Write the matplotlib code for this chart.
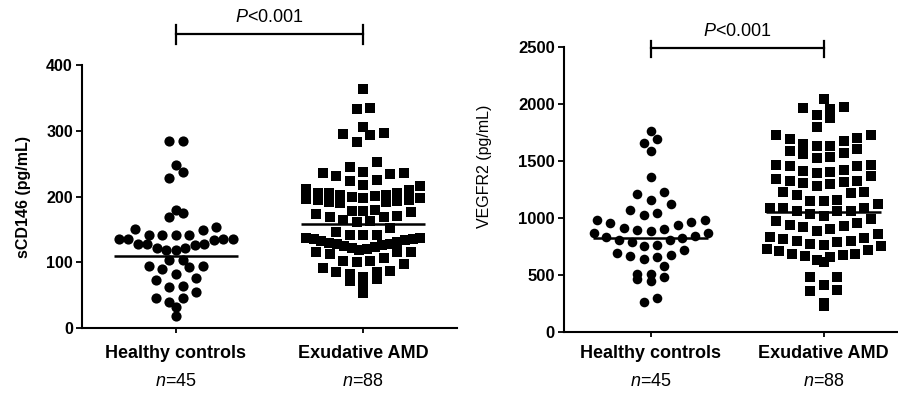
import numpy as np
import matplotlib
matplotlib.use('Agg')
import matplotlib.pyplot as plt

plt.rcParams['font.family'] = ['Liberation Sans', 'DejaVu Sans']
plt.rcParams['mathtext.fontset'] = 'custom'
plt.rcParams['mathtext.it'] = 'Liberation Sans:italic'
plt.rcParams['mathtext.rm'] = 'Liberation Sans'

# ---------------- data ----------------
groups = ['Healthy controls', 'Exudative AMD']
n_counts = ['45', '88']

scd146_healthy = [284, 284, 248, 237, 228, 180, 175, 169, 153, 150, 149,
                  141, 141, 141, 141, 136, 136, 136, 136, 134, 128, 128, 128,
                  125.5, 122, 122, 119, 119, 103, 103, 95, 95, 93, 89.5, 82,
                  76, 73, 64, 63, 55.5, 46, 45, 39, 32, 17.5]
scd146_amd = [364, 334, 333, 306, 296, 295, 294, 283, 253, 245, 238, 236,
              235, 233.5, 231, 225, 224, 218, 216, 211, 210, 206,
              205, 205, 203, 202, 201, 199, 198, 197, 196, 195, 194, 193,
              192, 191, 190,
              179, 178, 178, 177, 174, 171, 169, 169, 165, 162.5, 161.5,
              152, 146, 142, 142, 141,
              137, 137, 136, 135, 134, 132, 131, 130, 128, 127, 126, 124.5,
              122.5, 121.5, 120, 119,
              116, 115, 115, 112, 107, 102, 102, 101, 97,
              91.5, 86.5, 85.5, 84.5, 82.5, 78, 74.5, 71, 66,
              52.5]
vegfr2_healthy = [1766, 1696, 1658, 1590, 1362, 1225, 1210, 1160, 1123, 1073,
                  1044, 1023, 985, 979, 961, 956, 941, 912, 903, 897, 883,
                  868, 868, 839, 833, 825, 804, 804, 789, 760, 757, 716, 693,
                  678, 663, 655, 643, 576, 509, 509, 483, 468, 444, 298, 260]
vegfr2_amd = [2047, 1971, 1965, 1959, 1906, 1877, 1795, 1731, 1725, 1702,
              1696, 1678, 1649, 1634, 1634, 1605, 1590, 1570, 1561, 1532,
              1526, 1468, 1468, 1459, 1453, 1424, 1415, 1403, 1395, 1365,
              1345, 1327, 1321, 1316, 1307, 1298, 1277, 1228, 1228, 1219,
              1198, 1161, 1152, 1146,
              1120, 1092, 1092, 1092, 1063, 1063, 1058, 1035, 1014,
              994, 976, 956, 941, 926, 921, 906, 889,
              862, 833, 825, 816, 801, 795, 786, 772, 766, 751,
              731, 722, 707, 687, 684, 672, 663, 654, 634, 614,
              479, 479, 409, 365, 356, 254, 231]
scd146_center = [110, 158]
vegfr2_center = [825, 1052]
p_label = '$P$<0.001'
scd146_ticks = [0, 100, 200, 300, 400]
vegfr2_ticks = [0, 500, 1000, 1500, 2000, 2500]

# ---------------- layout ----------------
W, H = 898, 394
fig = plt.figure(figsize=(W / 100, H / 100), dpi=100)


def px_axes(left, top, right, bottom):
    return fig.add_axes([left / W, 1 - bottom / H, (right - left) / W, (bottom - top) / H])


def row_offsets(vals, bin_h, bin_off, step, max_half):
    """Prism-like scatter: values in the same y-bin are spread sideways,
    smallest value in the centre, larger ones alternating outwards."""
    v = np.asarray(vals, float)
    off = np.zeros_like(v)
    b = np.floor((v - bin_off) / bin_h).astype(int)
    for k in np.unique(b):
        idx = np.where(b == k)[0]
        idx = idx[np.argsort(v[idx], kind='stable')]
        n = len(idx)
        sp = step if n < 2 else min(step, 2 * max_half / (n - 1))
        slots = (np.arange(n) - (n - 1) / 2) * sp
        order = sorted(range(n), key=lambda i: (abs(slots[i]), slots[i]))
        for j, i in enumerate(order):
            off[idx[j]] = slots[i]
    return off


def panel(ax, data, markers, centers, ylim, yticks, xlim, axis_px_w,
          bin_h, bin_off, ylabel, ylabel_bold, ylabel_size, ylabel_xy,
          ytick_size, tick_pad_x, n_dy, br_y, br_tick, p_y, msize):
    ppu = axis_px_w / (xlim[1] - xlim[0])  # pixels per x unit
    for i, (vals, mk) in enumerate(zip(data, markers)):
        off = row_offsets(vals, bin_h, bin_off, 13.5 / ppu, 57 / ppu)
        ax.scatter(i + off, vals, s=msize[i], marker=mk, c='black',
                   linewidths=0, clip_on=False, zorder=3)
        ax.plot([i - 0.33, i + 0.33], [centers[i], centers[i]], color='black',
                lw=1.8, zorder=4, solid_capstyle='butt')
    ax.set_xlim(*xlim)
    ax.set_ylim(*ylim)
    ax.set_yticks(yticks)
    ax.set_yticklabels([str(t) for t in yticks], fontsize=ytick_size, fontweight='bold')
    ax.set_xticks([0, 1])
    ax.set_xticklabels(groups, fontsize=13, fontweight='bold')
    ax.tick_params(axis='y', direction='out', length=4.5, width=1.3, pad=2)
    ax.tick_params(axis='x', direction='out', length=3.5, width=1.3, pad=tick_pad_x)
    for s in ('top', 'right'):
        ax.spines[s].set_visible(False)
    for s in ('left', 'bottom'):
        ax.spines[s].set_linewidth(1.5)
    ax.set_ylabel(ylabel, fontsize=ylabel_size,
                  fontweight='bold' if ylabel_bold else 'normal')
    ax.yaxis.set_label_coords(*ylabel_xy)
    for i, n in enumerate(n_counts):
        ax.annotate('$n$=' + n, xy=(i, 0), xycoords=ax.get_xaxis_transform(),
                    xytext=(0, -n_dy), textcoords='offset pixels',
                    ha='center', va='center', fontsize=13)
    # significance bracket
    ax.plot([0, 1], [br_y, br_y], color='black', lw=1.6, clip_on=False)
    for xx in (0, 1):
        ax.plot([xx, xx], br_tick, color='black', lw=1.6, clip_on=False)
    ax.text(0.5, p_y, p_label, ha='center', va='center', fontsize=13)


ax1 = px_axes(82, 65, 457, 328)
panel(ax1, [scd146_healthy, scd146_amd], ['o', 's'], scd146_center,
      (0, 400), scd146_ticks, (-0.5, 1.5), 375, 20, 18,
      'sCD146 (pg/mL)', True, 11.5, (-0.135, 0.5), 11.5, 8.8, 53.5,
      447, (431.6, 460.5), 472.6, [54, 44])

ax2 = px_axes(564, 47, 898, 332)
panel(ax2, [vegfr2_healthy, vegfr2_amd], ['o', 's'], vegfr2_center,
      (0, 2500), vegfr2_ticks, (-0.5, 1.43), 334, 125, 4,
      'VEGFR2 (pg/mL)', False, 11.5, (-0.215, 0.58), 12, 5.8, 50,
      2487, (2412, 2553), 2640, [48, 44])

fig.savefig('out.png', dpi=100)
